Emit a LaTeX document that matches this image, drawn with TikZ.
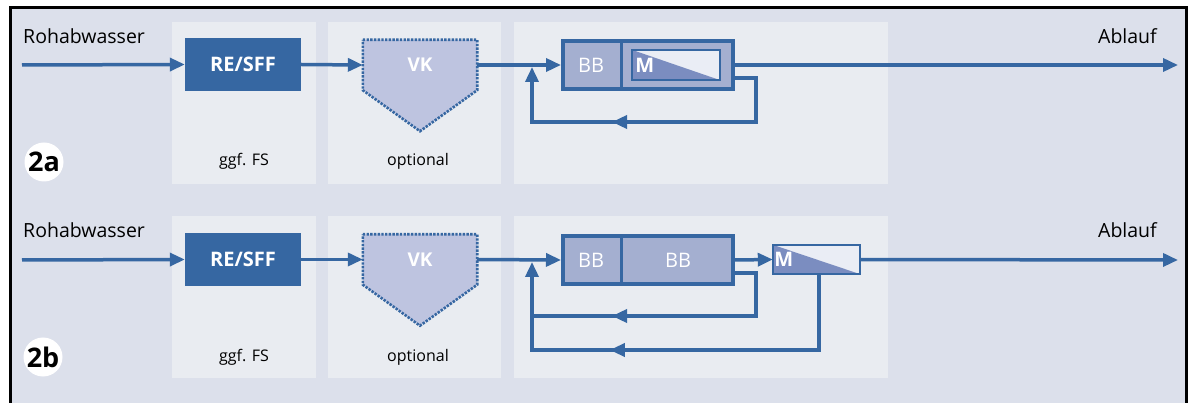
\documentclass[tikz,border=0pt]{standalone}
\usepackage{fontspec}
\setmainfont{Open Sans}
\usetikzlibrary{arrows.meta,decorations.markings,calc}
\pgfdeclarelayer{base}
\pgfdeclarelayer{back}
\pgfdeclarelayer{mid}
\pgfsetlayers{base,back,mid,main}

\definecolor{bgouter}{HTML}{DCE0EB}
\definecolor{panel}{HTML}{E9ECF1}
\definecolor{flowblue}{HTML}{3667A2}
\definecolor{vkfill}{HTML}{BEC4E0}
\definecolor{bbfill}{HTML}{A4AFD0}
\definecolor{mfill}{HTML}{7B8DC0}
\definecolor{mlight}{HTML}{EAEDF5}

\tikzset{
  tipshape/.style={-{Triangle[length=15pt,width=13pt]}},
  flowplain/.style={color=flowblue, line width=3.5pt},
  flow/.style={flowplain, tipshape},
  midtip/.style={postaction={decorate}, decoration={markings,
      mark=at position #1 with {\arrow{Triangle[length=15pt,width=13pt]}}}},
  panelbox/.style={fill=panel, draw=none},
  label/.style={font=\fontsize{16}{16}\selectfont, text=black, inner sep=0pt},
  biglabel/.style={font=\fontsize{19.5}{19.5}\selectfont, text=black, inner sep=0pt},
  resff/.style={fill=flowblue, minimum width=116pt, minimum height=53pt,
      inner sep=0pt, text=white, font=\bfseries\fontsize{20}{20}\selectfont},
  vkbox/.style={minimum width=114pt, minimum height=50pt, inner sep=0pt,
      text=white, font=\bfseries\fontsize{19}{19}\selectfont},
  vkshape/.style={fill=vkfill, draw=flowblue, line width=2.6pt,
      dash pattern=on 2.4pt off 1.3pt},
  bbouter/.style={fill=bbfill, draw=flowblue, line width=4pt,
      minimum width=170pt, minimum height=48pt, inner sep=0pt},
  bbtext/.style={minimum width=60pt, minimum height=48pt, inner sep=0pt,
      text=white, font=\fontsize{20}{20}\selectfont},
  divider/.style={draw=flowblue, line width=3pt},
  mbox/.style={fill=mlight, draw=none, inner sep=0pt},
  mframe/.style={draw=flowblue, line width=1.5pt},
  mtext/.style={text=white, inner sep=0pt, font=\bfseries\fontsize{20}{20}\selectfont},
  tag/.style={circle, fill=white, minimum size=39pt, inner sep=0pt,
      font=\bfseries\fontsize{27}{27}\selectfont, text=black},
}

\begin{document}
\begin{tikzpicture}[x=1pt, y=-1pt]
\useasboundingbox (0,0) rectangle (1189,403);

% background and frame
\begin{pgfonlayer}{base}
  \fill[white] (0,0) rectangle (1189,403);
  \fill[bgouter] (10.5,8) rectangle (1186.5,403);
  \draw[black, line width=3pt] (10.5,403) -- (10.5,8) -- (1186.5,8) -- (1186.5,403);
\end{pgfonlayer}

% process panels
\begin{pgfonlayer}{back}
  \foreach \dy in {0,194} {
    \fill[panelbox] (172,22+\dy) rectangle (316,184+\dy);
    \fill[panelbox] (328,22+\dy) rectangle (501,184+\dy);
    \fill[panelbox] (514,22+\dy) rectangle (888,184+\dy);
  }
\end{pgfonlayer}

% ---------------- variant 2a ----------------
\node[biglabel, anchor=base west] (raw1) at (23,44) {Rohabwasser};
\node[biglabel, anchor=base east] (eff1) at (1157,44) {Ablauf};
\node[label, anchor=base] (fs1) at (244,166) {ggf. FS};
\node[label, anchor=base] (opt1) at (418,166) {optional};
\node[tag] (tag1) at (44,162) {2a};

\coordinate (in1) at (22,65);
\coordinate (out1) at (1178,65);

\node[resff] (re1) at (243,64.5) {RE/SFF};
\node[vkbox] (vk1) at (420,65) {VK};
\begin{pgfonlayer}{mid}
  \draw[vkshape] (vk1.north west) -- (vk1.north east) -- (vk1.south east)
    -- ($(vk1.south)+(0,41)$) -- (vk1.south west) -- cycle;
\end{pgfonlayer}

\node[bbouter] (bb1) at (648,65) {};
\node[bbtext] (bb1a) at (591,65) {BB};
\draw[divider] (bb1a.north east) -- (bb1a.south east);
\node[mbox, minimum width=88pt, minimum height=30pt] (m1) at (676,65) {};
\fill[mfill] (m1.north west) -- (m1.south east) -- (m1.south west) -- cycle;
\draw[mframe] (m1.north west) rectangle (m1.south east);
\node[mtext] (m1t) at ([xshift=13pt]m1.west) {M};

\draw[flow] (in1) -- (re1.west);
\draw[flow] (re1.east) -- (vk1.west);
\draw[flow] (vk1.east) -- (bb1.west);
\draw[flow] (bb1.east) -- (out1);

\coordinate (c1) at (756,122);
\coordinate (j1) at (532,67);
\draw[flow, midtip=209pt] ([yshift=-13pt]bb1.east) -| (c1) -- (c1 -| j1) -- (j1);

% ---------------- variant 2b ----------------
\node[biglabel, anchor=base west] (raw2) at (23,238) {Rohabwasser};
\node[biglabel, anchor=base east] (eff2) at (1157,238) {Ablauf};
\node[label, anchor=base] (fs2) at (244,362) {ggf. FS};
\node[label, anchor=base] (opt2) at (418,362) {optional};
\node[tag] (tag2) at (43,357) {2b};

\coordinate (in2) at (22,260);
\coordinate (out2) at (1178,260);

\node[resff] (re2) at (243,259.5) {RE/SFF};
\node[vkbox] (vk2) at (420,259.5) {VK};
\begin{pgfonlayer}{mid}
  \draw[vkshape] (vk2.north west) -- (vk2.north east) -- (vk2.south east)
    -- ($(vk2.south)+(0,41)$) -- (vk2.south west) -- cycle;
\end{pgfonlayer}

\node[bbouter] (bb2) at (648,260) {};
\node[bbtext] (bb2a) at (591,260) {BB};
\draw[divider] (bb2a.north east) -- (bb2a.south east);
\node[bbtext] (bb2b) at (678,260) {BB};
\node[mbox, minimum width=87pt, minimum height=29pt] (m2) at (816.5,259.5) {};
\fill[mfill] (m2.north west) -- (m2.south east) -- (m2.south west) -- cycle;
\draw[mframe] (m2.north west) rectangle (m2.south east);
\node[mtext] (m2t) at ([xshift=11pt]m2.west) {M};

\draw[flow] (in2) -- (re2.west);
\draw[flow] (re2.east) -- (vk2.west);
\draw[flow] (vk2.east) -- (bb2.west);
\draw[flow] (bb2.east) -- (m2.west);
\draw[flow] (m2.east) -- (out2);

\coordinate (c2) at (756,316);
\coordinate (c3) at (819,350);
\coordinate (j2) at (532,262);
\draw[flowplain, midtip=208pt] ([yshift=-13pt]bb2.east) -| (c2) -- (c2 -| j2);
\draw[flow, midtip=285pt] ([xshift=2.5pt]m2.south) |- (c3 -| j2) -- (j2);
\end{tikzpicture}
\end{document}
